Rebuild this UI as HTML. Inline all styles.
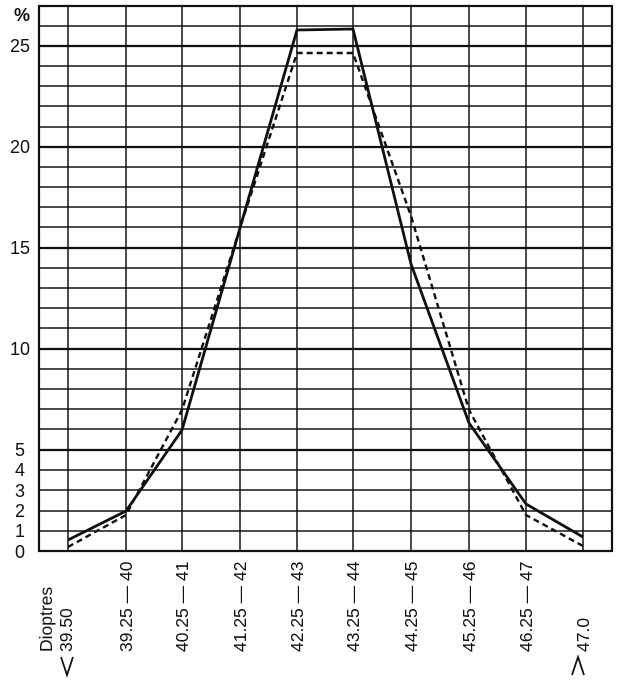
<!DOCTYPE html><html><head><style>body{margin:0;background:#fff}svg{display:block}text{font-family:"Liberation Sans",sans-serif;fill:#111}</style></head><body>
<svg width="617" height="682" viewBox="0 0 617 682" xmlns="http://www.w3.org/2000/svg">
<g stroke="#111" stroke-width="1.5" fill="none">
<rect x="39" y="6" width="573" height="545" stroke-width="2.2"/>
<path d="M39 26H612M39 66H612M39 86H612M39 106H612M39 127H612M39 167H612M39 187H612M39 207H612M39 227H612M39 268H612M39 288H612M39 308H612M39 328H612M39 369H612M39 389H612M39 409H612M39 429H612M39 470H612M39 490H612M39 511H612M39 531H612"/>
<path d="M39 46H612M39 147H612M39 248H612M39 349H612M39 450H612" stroke-width="2.2"/>
<path d="M68 6V551M126 6V551M182 6V551M240 6V551M297 6V551M353 6V551M411 6V551M469 6V551M526 6V551M583 6V551"/>
<polyline stroke-width="2.8" points="68,540 126,511 182,430 240,228 297,30 353,29 411,264 469,423 526,504 583,537"/>
<polyline stroke-width="2.4" stroke-dasharray="6,4" points="68,547 126,515 182,410 240,228 297,53 353,53 411,216 469,410 526,515 583,546"/>
</g>
<g font-size="18" text-anchor="end">
<text x="30" y="21" font-weight="bold">%</text>
<text x="30" y="52">25</text><text x="30" y="153">20</text><text x="30" y="254">15</text><text x="30" y="355">10</text>
<text x="25" y="456">5</text><text x="25" y="476">4</text><text x="25" y="497">3</text><text x="25" y="517">2</text><text x="25" y="537">1</text><text x="25" y="558">0</text>
</g>
<g font-size="17.5">
<text transform="translate(52,652) rotate(-90)">Dioptres</text>
<text transform="translate(72,652) rotate(-90)">39.50</text>
<text transform="translate(132,652) rotate(-90)">39.25 — 40</text>
<text transform="translate(188,652) rotate(-90)">40.25 — 41</text>
<text transform="translate(246,652) rotate(-90)">41.25 — 42</text>
<text transform="translate(303,652) rotate(-90)">42.25 — 43</text>
<text transform="translate(359,652) rotate(-90)">43.25 — 44</text>
<text transform="translate(417,652) rotate(-90)">44.25 — 45</text>
<text transform="translate(475,652) rotate(-90)">45.25 — 46</text>
<text transform="translate(532,652) rotate(-90)">46.25 — 47</text>
<text transform="translate(589,652) rotate(-90)">47.0</text>
</g>
<g stroke="#111" stroke-width="1.8" fill="none">
<path d="M61 657L67 675L73 657"/>
<path d="M572 675L578 657L584 675"/>
</g>
</svg></body></html>
